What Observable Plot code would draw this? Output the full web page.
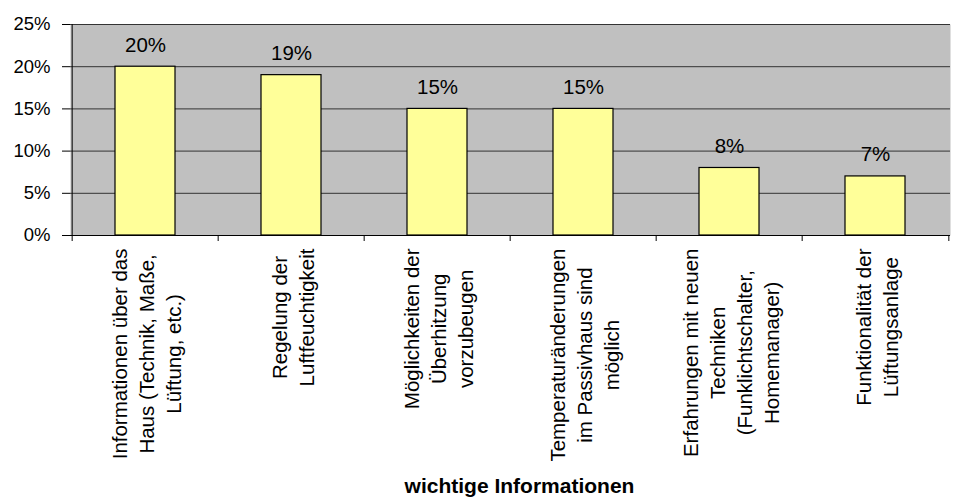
<!DOCTYPE html>
<html>
<head>
<meta charset="utf-8">
<script src="https://cdn.jsdelivr.net/npm/d3@7"></script>
<script src="https://cdn.jsdelivr.net/npm/@observablehq/plot@0.6"></script>
<style>
  body { margin: 0; background: #fff; }
  svg { display: block; }
</style>
</head>
<body>
<div id="chart"></div>
<script>
// ---- data ----
const categories = [
  "Informationen über das\nHaus (Technik, Maße,\nLüftung, etc.)",
  "Regelung der\nLuftfeuchtigkeit",
  "Möglichkeiten der\nÜberhitzung\nvorzubeugen",
  "Temperaturänderungen\nim Passivhaus sind\nmöglich",
  "Erfahrungen mit neuen\nTechniken\n(Funklichtschalter,\nHomemanager)",
  "Funktionalität der\nLüftungsanlage"
];
const values = [0.20, 0.19, 0.15, 0.15, 0.08, 0.07];
const yTicks = [0, 0.05, 0.10, 0.15, 0.20, 0.25];
const xTitle = "wichtige Informationen";

const data = categories.map((c, i) => ({label: c, value: values[i]}));

// ---- layout ----
const W = 960, H = 499;
const mL = 70, mR = 10, mT = 24, mB = 264;
const frameH = H - mT - mB;
const step = (W - mL - mR) / categories.length;
const labelFont = 20.5;

const ctx = document.createElement("canvas").getContext("2d");
ctx.font = `${labelFont}px "Liberation Sans", Arial, sans-serif`;
const maxW = categories.map(c => d3.max(c.split("\n"), s => ctx.measureText(s).width));

const pct = d3.format(".0%");

const plot = Plot.plot({
  width: W,
  height: H,
  marginLeft: mL,
  marginRight: mR,
  marginTop: mT,
  marginBottom: mB,
  style: {fontFamily: '"Liberation Sans", Arial, sans-serif', fontSize: "18.5px", color: "#000", background: "#fff"},
  x: {domain: categories, paddingInner: 0.59, paddingOuter: 0.295, axis: null},
  y: {domain: [0, 0.25]},
  marks: [
    Plot.frame({fill: "#c0c0c0", stroke: null}),
    Plot.gridY(yTicks, {stroke: "#333", strokeOpacity: 1, strokeWidth: 1}),
    Plot.barY(data, {x: "label", y: "value", fill: "#ffff99", stroke: "#000", strokeWidth: 1.2}),
    Plot.text(data, {x: "label", y: "value", text: d => pct(d.value), lineAnchor: "bottom", dy: -15, fontSize: 20.5, fill: "#000"}),
    Plot.axisY(yTicks, {tickFormat: pct, tickSize: 8, tickPadding: 12, label: null, stroke: "#000", fill: "#000"}),
    Plot.ruleY([0], {stroke: "#000", strokeWidth: 1}),
    // left axis line (+ boundary tick)
    Plot.ruleX([categories[0]], {x: d => d, dx: -step / 2, insetTop: 0, insetBottom: -6, stroke: "#000"}),
    // category boundary ticks
    Plot.ruleX(categories.slice(1), {x: d => d, dx: -step / 2, insetTop: frameH, insetBottom: -6, stroke: "#000"}),
    Plot.ruleX([categories[categories.length - 1]], {x: d => d, dx: step / 2, insetTop: frameH, insetBottom: -6, stroke: "#000"}),
    // rotated category labels
    ...categories.map((c, i) => Plot.text([c], {
      x: d => d, text: d => d, frameAnchor: "bottom", rotate: -90,
      textAnchor: "middle", lineAnchor: "middle", lineHeight: 1.32,
      fontSize: labelFont, fill: "#000", dy: 13 + maxW[i] / 2
    })),
    // x axis title
    Plot.text([xTitle], {text: d => d, frameAnchor: "bottom", lineAnchor: "bottom", dy: 257, dx: 9,
      fontWeight: "bold", fontSize: 21, fill: "#000"})
  ]
});

document.getElementById("chart").append(plot);
</script>
</body>
</html>
